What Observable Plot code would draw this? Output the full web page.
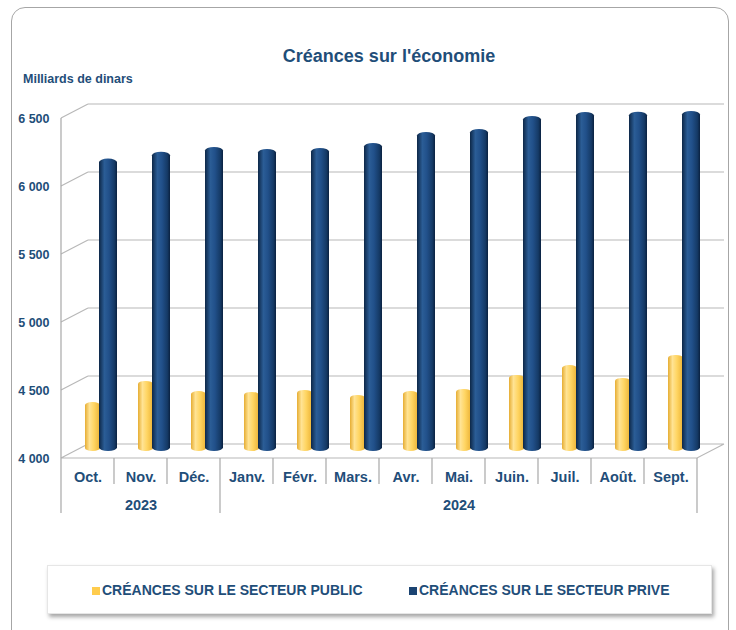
<!DOCTYPE html>
<html>
<head>
<meta charset="utf-8">
<script src="https://cdn.jsdelivr.net/npm/d3@7"></script>
<script src="https://cdn.jsdelivr.net/npm/@observablehq/plot@0.6"></script>
<style>
  html, body { margin: 0; padding: 0; background: #fff; width: 736px; height: 630px; overflow: hidden; }
  body { position: relative; font-family: "Liberation Sans", Arial, sans-serif; color: #1f4e79; }
  .card { position: absolute; left: 11px; top: 7px; width: 716px; height: 660px; border: 1.5px solid #a6a6a6; border-radius: 14px; }
  .title { position: absolute; left: 0; width: 778px; top: 46px; text-align: center; font-weight: bold; font-size: 18px; line-height: 20px; }
  .unit { position: absolute; left: 23px; top: 72px; font-weight: bold; font-size: 12.5px; line-height: 15px; }
  #chart { position: absolute; left: 0; top: 90px; }
  .legend { position: absolute; left: 47px; top: 565px; width: 663px; height: 47px; background: #fff; border: 1px solid #e6e6e6; box-shadow: 2px 3px 4px rgba(0,0,0,0.35); }
  .item { position: absolute; top: 16px; font-weight: bold; font-size: 14px; line-height: 16px; white-space: nowrap; }
  .sw { display: inline-block; width: 8px; height: 8px; margin-right: 2px; vertical-align: 0px; }
</style>
</head>
<body>
<div class="card"></div>
<div class="title">Créances sur l'économie</div>
<div class="unit">Milliards de dinars</div>
<div id="chart"></div>
<div class="legend" id="legend"></div>
<script>
const months = ["Oct.","Nov.","Déc.","Janv.","Févr.","Mars.","Avr.","Mai.","Juin.","Juil.","Août.","Sept."];
const years = ["2023","2024"];
const yearMonthCounts = [3, 9];
const publicValues = [4360,4515,4441,4434,4449,4412,4441,4456,4559,4632,4537,4706];
const privateValues = [6150,6200,6235,6220,6228,6265,6345,6368,6463,6493,6495,6500];
const yTicks = [4000,4500,5000,5500,6000,6500];
const seriesNames = ["CRÉANCES SUR LE SECTEUR PUBLIC","CRÉANCES SUR LE SECTEUR PRIVE"];
const seriesColors = ["#ffcc4d","#1b4472"];

const textColor = "#1f4e79";
const baseValue = yTicks[0];
const publicData = months.map((m, i) => ({month: m, value: publicValues[i]}));
const privateData = months.map((m, i) => ({month: m, value: privateValues[i]}));

// year labels placed on the middle month of each year group
let start = 0;
const yearData = years.map((yr, k) => {
  const n = yearMonthCounts[k];
  const mid = months[start + Math.floor(n / 2)];
  const firstIdx = start;
  start += n;
  return {year: yr, month: mid, first: firstIdx};
});

function defsMark() {
  const defs = d3.create("svg:defs");
  const grads = [
    {id: "gradBlue", stops: [[0,"#0d2747"],[0.3,"#2b5d96"],[0.55,"#21508a"],[0.85,"#153a66"],[1,"#0a2140"]]},
    {id: "gradYellow", stops: [[0,"#e6ad33"],[0.3,"#ffe394"],[0.6,"#ffd562"],[0.9,"#f0bb41"],[1,"#dca22a"]]}
  ];
  for (const g of grads) {
    const lg = defs.append("linearGradient").attr("id", g.id).attr("x1", 0).attr("x2", 1).attr("y1", 0).attr("y2", 0);
    for (const [o, c] of g.stops) lg.append("stop").attr("offset", o).attr("stop-color", c);
  }
  return defs.node();
}

function frameMark(index, scales) {
  const x = scales.x, y = scales.y;
  const bw = x.bandwidth ? x.bandwidth() : 53;
  const x0 = x(months[0]);
  const x1 = x(months[months.length - 1]) + bw;
  const DX = 27;
  const front = v => y(v) + 7;
  const back = v => y(v) - 7;
  const g = d3.create("svg:g").attr("fill", "none").attr("stroke", "#b8b8b8").attr("stroke-width", 1.2);
  let d = "";
  for (const v of yTicks) {
    d += `M${x0 + DX},${back(v)}H${x1 + DX}`;
    d += `M${x0},${front(v)}L${x0 + DX},${back(v)}`;
  }
  const fb = front(baseValue);
  d += `M${x0},${fb}H${x1}L${x1 + DX},${back(baseValue)}`;
  g.append("path").attr("d", d);
  let s = `M${x0},${front(yTicks[yTicks.length - 1])}V${fb + 55}`;
  const yearStarts = new Set(yearData.map(e => e.first));
  for (let i = 1; i < months.length; i++) {
    const bx = x(months[i]);
    s += `M${bx},${fb}V${fb + (yearStarts.has(i) ? 55 : 26)}`;
  }
  s += `M${x1},${fb}V${fb + 55}`;
  g.append("path").attr("d", s).attr("stroke", "#a8a8a8");
  return g.node();
}

const plot = Plot.plot({
  width: 736,
  height: 430,
  marginLeft: 59,
  marginRight: 38,
  marginTop: 21,
  marginBottom: 69,
  x: {type: "band", domain: months, padding: 0, axis: null},
  y: {domain: [yTicks[0], yTicks[yTicks.length - 1]], axis: null},
  style: {fontFamily: "'Liberation Sans', Arial, sans-serif", background: "transparent", overflow: "visible"},
  marks: [
    defsMark,
    frameMark,
    Plot.rectY(publicData, {x: "month", y1: () => baseValue, y2: "value", fill: "url(#gradYellow)", insetLeft: 24, insetRight: 14, rx: 7, ry: 3}),
    Plot.rectY(privateData, {x: "month", y1: () => baseValue, y2: "value", fill: "url(#gradBlue)", insetLeft: 38, insetRight: -3, rx: 9, ry: 3.5}),
    Plot.text(yTicks, {y: d => d, text: d => d3.format(",")(d).replace(",", " "), frameAnchor: "left", dx: -10, dy: 7, textAnchor: "end", fontWeight: "bold", fontSize: 12.5, fill: textColor}),
    Plot.text(months, {x: d => d, y: () => baseValue, text: d => d, dy: 26, fontWeight: "bold", fontSize: 14.5, fill: textColor}),
    Plot.text(yearData, {x: "month", y: () => baseValue, text: "year", dy: 54, fontWeight: "bold", fontSize: 14.5, fill: textColor})
  ]
});
document.getElementById("chart").appendChild(plot);

// legend
const legend = document.getElementById("legend");
const legendX = [44, 361];
seriesNames.forEach((name, i) => {
  const it = document.createElement("div");
  it.className = "item";
  it.style.left = legendX[i] + "px";
  const sw = document.createElement("span");
  sw.className = "sw";
  sw.style.background = seriesColors[i];
  it.appendChild(sw);
  it.appendChild(document.createTextNode(name));
  legend.appendChild(it);
});
</script>
</body>
</html>
